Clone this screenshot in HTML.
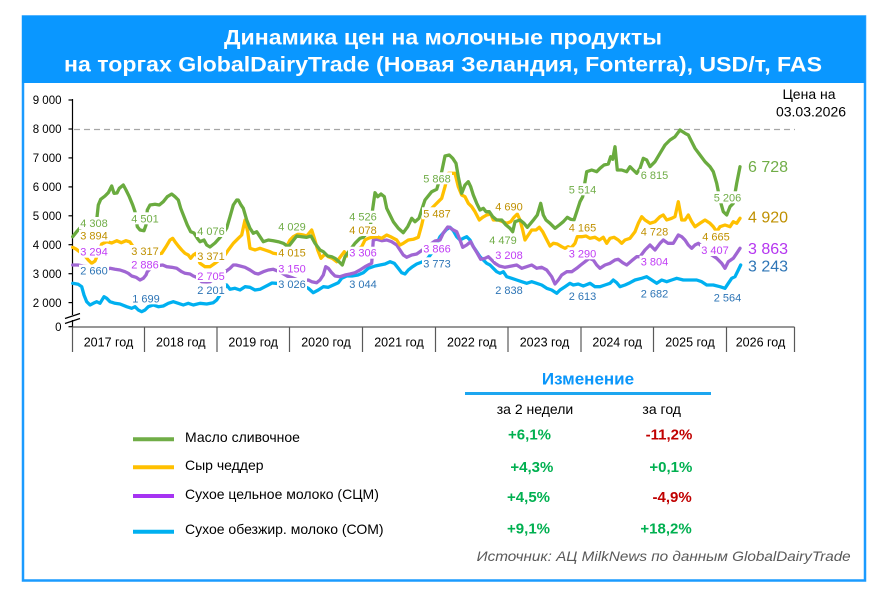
<!DOCTYPE html>
<html><head><meta charset="utf-8"><style>
html,body{margin:0;padding:0;background:#fff;}
svg{display:block;font-family:"Liberation Sans",Arial,sans-serif;}
.lbl{font-size:11px;text-anchor:middle;}
</style></head><body>
<svg width="873" height="589" viewBox="0 0 873 589" xmlns="http://www.w3.org/2000/svg">
<rect x="0" y="0" width="873" height="589" fill="#fff"/>
<!-- frame -->
<rect x="23" y="16.5" width="842" height="564" fill="#fff" stroke="#1a9bff" stroke-width="2.5"/>
<rect x="22" y="16" width="843" height="67" fill="#0a97ff"/>
<text x="443" y="44.5" fill="#fff" font-size="21.5" font-weight="bold" text-anchor="middle" textLength="438" lengthAdjust="spacingAndGlyphs">Динамика цен на молочные продукты</text>
<text x="443" y="71.5" fill="#fff" font-size="21.5" font-weight="bold" text-anchor="middle" textLength="758" lengthAdjust="spacingAndGlyphs">на торгах GlobalDairyTrade (Новая Зеландия, Fonterra), USD/т, FAS</text>

<!-- y axis -->
<g stroke="#000" stroke-width="1.2">
<line x1="72.5" y1="99" x2="72.5" y2="315"/>
<line x1="72.5" y1="320" x2="72.5" y2="327"/>
<line x1="68.5" y1="100" x2="72.5" y2="100"/>
<line x1="68.5" y1="129" x2="72.5" y2="129"/>
<line x1="68.5" y1="157.9" x2="72.5" y2="157.9"/>
<line x1="68.5" y1="186.9" x2="72.5" y2="186.9"/>
<line x1="68.5" y1="215.8" x2="72.5" y2="215.8"/>
<line x1="68.5" y1="244.7" x2="72.5" y2="244.7"/>
<line x1="68.5" y1="273.7" x2="72.5" y2="273.7"/>
<line x1="68.5" y1="302.6" x2="72.5" y2="302.6"/>
<line x1="68.5" y1="326.7" x2="72.5" y2="326.7"/>
<line x1="65" y1="318.5" x2="80" y2="313.5"/>
<line x1="65" y1="323.5" x2="80" y2="318.5"/>
</g>
<g font-size="11.5" fill="#000" text-anchor="end">
<text x="61.5" y="104">9 000</text>
<text x="61.5" y="133">8 000</text>
<text x="61.5" y="162">7 000</text>
<text x="61.5" y="191">6 000</text>
<text x="61.5" y="220">5 000</text>
<text x="61.5" y="249">4 000</text>
<text x="61.5" y="278">3 000</text>
<text x="61.5" y="307">2 000</text>
<text x="61.5" y="331">0</text>
</g>
<!-- 8000 dashed -->
<line x1="74" y1="129.5" x2="795" y2="129.5" stroke="#a6a6a6" stroke-width="1.2" stroke-dasharray="6,4"/>

<!-- x axis -->
<g stroke="#595959" stroke-width="1.2">
<line x1="72.5" y1="327" x2="794.5" y2="327"/>
<line x1="72.5" y1="327" x2="72.5" y2="352"/>
<line x1="144.5" y1="327" x2="144.5" y2="352"/>
<line x1="217" y1="327" x2="217" y2="352"/>
<line x1="289.5" y1="327" x2="289.5" y2="352"/>
<line x1="362.5" y1="327" x2="362.5" y2="352"/>
<line x1="435.5" y1="327" x2="435.5" y2="352"/>
<line x1="508" y1="327" x2="508" y2="352"/>
<line x1="581" y1="327" x2="581" y2="352"/>
<line x1="653.5" y1="327" x2="653.5" y2="352"/>
<line x1="726.5" y1="327" x2="726.5" y2="352"/>
<line x1="794.5" y1="327" x2="794.5" y2="352"/>
</g>
<g font-size="12.5" fill="#000" text-anchor="middle">
<text x="108.5" y="346.5">2017 год</text>
<text x="180.8" y="346.5">2018 год</text>
<text x="253.2" y="346.5">2019 год</text>
<text x="326" y="346.5">2020 год</text>
<text x="399" y="346.5">2021 год</text>
<text x="471.8" y="346.5">2022 год</text>
<text x="544.5" y="346.5">2023 год</text>
<text x="617.2" y="346.5">2024 год</text>
<text x="690" y="346.5">2025 год</text>
<text x="760.5" y="346.5">2026 год</text>
</g>

<text x="809" y="99" font-size="14" text-anchor="middle" fill="#000">Цена на</text>
<text x="811" y="116.7" font-size="14" text-anchor="middle" fill="#000">03.03.2026</text>

<!-- series -->
<g fill="none" stroke-width="3.3" stroke-linejoin="round" stroke-linecap="round">
<polyline stroke="#00b0f0" points="72.7,283.3 78.3,284.3 81.7,286.7 84,295 86.7,301.7 90,305 93.3,303.3 96.7,301.7 100,303.3 104,296.7 106.7,298.3 110,301.7 115,303.3 120,304 126.7,306.7 131.7,308.3 135,306.7 138.3,310 141.7,311.7 145,310 148.3,306.7 153.3,305 158.3,306.7 163.3,306 168.3,303.3 173.3,301.7 178.3,303.3 183.3,305 188.3,303.3 193.3,305 200,303.3 206.7,304 213.3,302.7 216.7,300 219.3,296 223,290 226.7,285 230,289.3 235,288.3 240,290 245,286.7 250,287.3 255,290 260,289.3 265,286.7 268.3,285 272,283 276,283.3 282,284 290,285 298,286 303.3,286 308.3,288.3 313.3,292.7 318.3,290 323.3,286.7 328.3,287.3 333.3,285 338.3,282.7 341.7,278.3 346.7,276 352,276 358,275 363.3,272.7 368.3,268.3 375,266 380,265 385,264 390,261.7 394.3,263.3 398.3,268.3 401.7,272.7 405,274 408.3,270 411.7,267.3 416.7,264 422,262 428,258 434,250 440,236.7 443.3,233 446.7,229.3 450,227.3 453.3,230.7 456.7,236.7 460,240 463.3,238.3 466.7,236.7 470,240 473.3,246.7 476.7,251.7 480,256.7 483.3,260 486.7,263.3 490,265 493.3,268.3 496.7,271.7 500,273.3 503.3,271.7 506.7,276.7 511.7,278.3 516.7,280 521.7,281.7 526.7,283.3 531.7,281.7 536.7,283.3 541.7,285 546.7,288.3 551.7,290 556.7,293.3 560,290 565,286.7 570,283.3 573.3,285 578.3,284 583.3,286 590,283.3 595,286.7 600,286.7 605,285 610,283.3 613.3,280 616.7,282.7 620,286.7 625,285 630,282.7 635,280 641.7,278.3 646.7,276.7 651.7,280 656.7,283.3 661.7,280 666.7,281.7 671.7,280 676.7,278.3 683.3,280 690,280 696.7,280 701.7,281.7 706.7,285 713.3,285 720,286.7 725,288.3 728.3,283.3 731.7,278.3 735,276.7 738.3,270 740.7,265"/>
<polyline stroke="#a066d3" points="72.7,265 78,265 83,266 90,267 96,268 101,269 106.7,269.3 110,268.3 115,269.3 120,270 125,271.7 128.3,273.3 131.7,276 136,277.3 140,280 143.3,278.3 146,275 147.3,271.7 152,267 157,265.7 162.7,265 166.7,266.7 171.7,267.3 176.7,268.3 181.7,271.7 185,273.3 190,274 193.3,276 196.7,277.3 201.7,281.7 206.7,282 210,281.7 215,278.3 220,275 225,272 230,268.3 233.3,265 236,265 240,266 245,267.3 250,270 255,273.3 258.3,274 263.3,271.7 268.3,270 273.3,269.3 280,272 287,276 293,278 298.3,280 303.3,280.7 308.3,280 311.7,281.7 316.7,282.7 320,280 323.3,275 325.7,266.7 328.3,268.3 331.7,272.7 335,276 340,276.7 345,275 350,274 355,272.7 360,270 365,266.7 368.3,265 371.7,263.3 373.3,240 376.7,239.3 381.7,240.7 386.7,240 391.7,241.7 396.7,245 400,250 403.3,255 406.7,257.3 411.7,255 416.7,254 421,251 428,246 435,241 440,240 443.3,233 447.7,227 449.3,227.3 453.3,230 456.7,231.7 460,240 462.7,247.3 466.7,245 470.7,241.7 473.3,246.7 477.3,253.3 480.7,259.3 485,258.3 488.3,256.7 491.7,260 495,263.3 499.3,266 505,267.3 511.7,266 516.7,265 521.7,268.3 526.7,266.7 531.7,265 536.7,268.3 541.7,267.3 546.7,270 551.7,276.7 555,284 558.3,280 561.7,275 566.7,271.7 571.7,271.7 576.7,268.3 580.7,265 585,261.7 589.3,258.3 593.3,260 596.7,265 600,268.3 605,265 610,263.3 615,260 618.3,259.3 622.7,262.7 626.7,265 631.7,260.7 636.7,256.7 640,256.7 645,250 650,245 655,250 660,243.3 663.3,240 668,243.3 673.3,243.3 678.3,235 681.7,236.7 685,240 688.3,245 691.7,248.3 695,245 698.3,243.3 705,249 711.7,255 716.7,258.3 721.7,263.3 725,268.3 728.3,261.7 733.3,258.3 736.7,253.3 740,248.3"/>
<polyline stroke="#ffc000" points="72.7,247.3 76,249 80,252 85,256 88.3,260 91.7,263.3 95,261 98.3,253.3 101.7,244 106.7,241.7 111.7,243 116.7,240.7 121.3,242.7 126,240.7 130,242 132.7,246 137,249 142,252 148,255 153.3,255 158,254 161.7,253.3 166,246.7 170,240 172.7,238.3 175,241.7 178.3,246 181.7,250 185,253.3 188.3,255 190.7,258.3 193.3,255 196,253.3 200,263.3 205,266.7 210,266.7 215,263.3 219.3,260 225,255 228.3,250 233.3,243.3 238.3,238.3 241.7,235 245,220 247.7,231.7 250,248.3 255,250 260,248.3 265,250 270,251.7 273.3,253.3 278,254 285,250 290,240 293.3,236.7 298.3,234 303.3,235 306.7,236 311.7,230 314.3,238.3 317.7,250 321,258.3 325,254 328.3,256.7 332.3,258.3 336.7,261.7 341,256 344.3,251.7 347,256 352,253 357,250 361.7,246.7 365,240 368.3,238.3 371.7,237.3 376.7,236.7 381.7,238.3 386.7,235 391.7,237.3 396.7,240 400,245 403.3,243.3 408.3,240 413.3,239.3 418.3,237.3 421.7,225 424,215 430,210 435,205 438.3,201.7 441.7,198.3 445,186.7 448.3,173.3 455,173.3 458.3,186.7 461.7,195 465,196.7 468.3,203.3 471.7,206.7 475,211.7 479.3,220 482.7,217.3 486.7,215 490.7,214 493.3,220 498.3,220 502.7,221.7 506.7,223.3 510.7,221.7 514,217.3 517.3,214 520,220 522.7,230 525,240 528.3,235 531.7,230 536,230 539.3,227.3 542.7,231.7 546,238.3 550,246 553.3,243.3 557.3,244 561.7,246.7 565,248.3 568,246.7 571,248 575,243.3 577.3,236.7 581.7,236.7 586,236 590,238.3 595,237.3 599.3,240 603.3,237.3 606.7,243.3 610,238.3 614,237.3 618.3,240 621.7,243.3 625,240 630,238.3 635,231.7 638.3,223.3 641.7,216.7 645,220 650,223.3 655,221.7 660,216.7 663.3,215 666.7,220 671.7,218.3 675,216.7 678.3,201.7 681.7,220 685,220 688.3,215 691.7,221.7 695,226.7 700,223.3 705,220 710,223.3 713.3,226.7 716.7,231.7 720,226.7 725,225 730,226.7 733.3,221.7 736.7,223.3 740,218.3"/>
<polyline stroke="#6aab3f" points="72.7,236.7 76.7,231.7 80,228 85,226 90,224 95,222 96.7,220 98.3,205 100.7,199.3 105,196 108.3,192.7 111.7,186 114,193.3 117,193 119.3,188.3 123.3,185 126,190 129.3,196.7 132.7,205 135,211.7 137.3,226.7 140,230 144,230.7 146,225 147.3,210 150,205 155,204.3 159.3,205 163.3,201.7 167.3,196.7 171.7,194 175,196.7 178.3,200 180.7,208.3 184,216.7 187.3,225 190.7,231.7 194,233 197.3,238.3 200,241.7 204,240 206.7,245 210,247 215,243 219.3,238.3 223.3,233.3 226.7,228 230,216.7 233.3,205 236.7,200 238.3,200 241,205 243.3,208.3 246.7,220 250,228.3 253.3,233.3 256.7,231.7 260,236.7 263.3,241.7 268.3,240 273.3,240.7 278.3,241.7 283.3,243.3 288.3,246.7 291,243.3 296.7,236 301.7,236.7 306.7,237.3 311,236 315,243.3 320,250 323.3,251.7 327.7,256 331.7,256.7 335,258.3 339,261.7 342.3,265 345,256.7 350,250 355,243.3 360,238.3 363.3,237.3 367,233 370,228.3 372.3,211.7 375,192.7 377.7,196.7 381,194 384.3,196.7 386.7,208.3 390,215 393.3,221.7 398.3,228.3 403.3,232.7 407.7,226.7 411.7,218.3 415,221.7 419,218.3 423.3,205 425,200 431.7,191.7 436.7,189.3 439,181.7 441.7,171.7 445,156 449.3,155 452.7,158.3 456,163.3 458.3,176.7 461.7,193.3 465,185 468.3,181.7 470.7,186.7 473.3,195 476.7,203.3 480,210 483.3,208.3 486,211.7 489.3,211.7 492.7,216.7 496.7,220 501.7,220 506,225 510,228.3 512.7,231.7 515,221.7 520,220 524,223.3 527.3,227.3 530.7,223.3 534,219.3 537.3,215 540.7,203.3 543.3,215 546,220 550,223.3 555,228.3 559.3,225 563.3,221.7 567.3,217.3 570.7,219.3 574,220 577.3,210 580,201.7 582.7,196.7 585,181.7 586.7,171.7 591.7,170 596.7,171.7 600,168.3 604,165 608.3,164 610.7,156.7 612.7,159.3 615,146.7 617.3,170 621.7,170 626.7,171.7 630,166.7 633.3,170 636.7,173.3 640,168.3 643.3,158.3 646.7,160 650,166.7 655,161.7 660,153.3 665,145 670,140 675,136.7 680,130 685,133.3 688.3,135 691.7,141.7 695,148.3 700,155 705,161.7 710,166.7 713.3,171.7 716.7,183.3 720,200 723.3,211.7 726.7,215 730,206.7 733.3,203.3 736.7,183.3 740,166.7"/>
</g>

<!-- data labels -->
<g class="lbl">
<g fill="#fff">
<rect x="79" y="217" width="30" height="12"/><rect x="130" y="212.3" width="30" height="12"/><rect x="196" y="225" width="30" height="12"/><rect x="277" y="220.7" width="30" height="12"/><rect x="348" y="210.7" width="30" height="12"/><rect x="422" y="172.3" width="30" height="12"/><rect x="488" y="234" width="30" height="12"/><rect x="567.5" y="183.3" width="30" height="12"/><rect x="639.5" y="169" width="30" height="12"/><rect x="712.5" y="191.3" width="30" height="12"/>
<rect x="79" y="229.5" width="30" height="12"/><rect x="130" y="245" width="30" height="12"/><rect x="196" y="250" width="30" height="12"/><rect x="277" y="246.7" width="30" height="12"/><rect x="348" y="224" width="30" height="12"/><rect x="422" y="207.3" width="30" height="12"/><rect x="494" y="200.7" width="30" height="12"/><rect x="567.5" y="221.3" width="30" height="12"/><rect x="639.5" y="225.7" width="30" height="12"/><rect x="701" y="230.7" width="30" height="12"/>
<rect x="79" y="245.7" width="30" height="12"/><rect x="130" y="258.3" width="30" height="12"/><rect x="196" y="270" width="30" height="12"/><rect x="277" y="262.3" width="30" height="12"/><rect x="348" y="246.7" width="30" height="12"/><rect x="422" y="242.3" width="30" height="12"/><rect x="494" y="249" width="30" height="12"/><rect x="567.5" y="247.3" width="30" height="12"/><rect x="639.5" y="255.7" width="30" height="12"/><rect x="700" y="244" width="30" height="12"/>
<rect x="79" y="264.7" width="30" height="12"/><rect x="131" y="292.3" width="30" height="12"/><rect x="196" y="284" width="30" height="12"/><rect x="277" y="278" width="30" height="12"/><rect x="348" y="278" width="30" height="12"/><rect x="422" y="257.3" width="30" height="12"/><rect x="494" y="284" width="30" height="12"/><rect x="567.5" y="290" width="30" height="12"/><rect x="639.5" y="287.3" width="30" height="12"/><rect x="712.5" y="291.3" width="30" height="12"/>
</g>
<g fill="#70ad47">
<text x="94" y="227">4 308</text><text x="145" y="222.3">4 501</text><text x="211" y="235">4 076</text><text x="292" y="230.7">4 029</text><text x="363" y="220.7">4 526</text><text x="437" y="182.3">5 868</text><text x="503" y="244">4 479</text><text x="582.5" y="193.3">5 514</text><text x="654.5" y="179">6 815</text><text x="727.5" y="201.3">5 206</text>
</g>
<g fill="#bf9000">
<text x="94" y="239.5">3 894</text><text x="145" y="255">3 317</text><text x="211" y="260">3 371</text><text x="292" y="256.7">4 015</text><text x="363" y="234">4 078</text><text x="437" y="217.3">5 487</text><text x="509" y="210.7">4 690</text><text x="582.5" y="231.3">4 165</text><text x="654.5" y="235.7">4 728</text><text x="716" y="240.7">4 665</text>
</g>
<g fill="#c03cf5">
<text x="94" y="255.7">3 294</text><text x="145" y="268.3">2 886</text><text x="211" y="280">2 705</text><text x="292" y="272.3">3 150</text><text x="363" y="256.7">3 306</text><text x="437" y="252.3">3 866</text><text x="509" y="259">3 208</text><text x="582.5" y="257.3">3 290</text><text x="654.5" y="265.7">3 804</text><text x="715" y="254">3 407</text>
</g>
<g fill="#2e75b6">
<text x="94" y="274.7">2 660</text><text x="146" y="302.3">1 699</text><text x="211" y="294">2 201</text><text x="292" y="288">3 026</text><text x="363" y="288">3 044</text><text x="437" y="267.3">3 773</text><text x="509" y="294">2 838</text><text x="582.5" y="300">2 613</text><text x="654.5" y="297.3">2 682</text><text x="727.5" y="301.3">2 564</text>
</g>
</g>

<!-- end values -->
<g font-size="16">
<text x="748" y="171.8" fill="#70ad47">6 728</text>
<text x="748" y="222.5" fill="#bf9000">4 920</text>
<text x="748" y="254" fill="#b535f0">3 863</text>
<text x="748" y="271.5" fill="#2e75b6">3 243</text>
</g>

<!-- legend -->
<g stroke-width="4">
<line x1="133" y1="439.3" x2="174" y2="439.3" stroke="#70ad47"/>
<line x1="133" y1="467.3" x2="174" y2="467.3" stroke="#ffc000"/>
<line x1="133" y1="496" x2="174" y2="496" stroke="#a633f2"/>
<line x1="133" y1="531.7" x2="174" y2="531.7" stroke="#00b0f0"/>
</g>
<g font-size="14" fill="#000">
<text x="185" y="442">Масло сливочное</text>
<text x="185" y="470">Сыр чеддер</text>
<text x="185" y="499">Сухое цельное молоко (СЦМ)</text>
<text x="185" y="534">Сухое обезжир. молоко (СОМ)</text>
</g>

<!-- change table -->
<text x="588" y="384.3" font-size="17" font-weight="bold" fill="#0a96fa" text-anchor="middle">Изменение</text>
<rect x="465" y="392" width="246" height="3" fill="#1ca6f0"/>
<g font-size="14" fill="#000" text-anchor="middle">
<text x="535" y="414">за 2 недели</text>
<text x="661.7" y="414">за год</text>
</g>
<g font-size="15" font-weight="bold" text-anchor="end">
<text x="551" y="439.5" fill="#00b050">+6,1%</text>
<text x="692.3" y="439.5" fill="#c00000">-11,2%</text>
<text x="553.3" y="472" fill="#00b050">+4,3%</text>
<text x="692.3" y="472" fill="#00b050">+0,1%</text>
<text x="550" y="502" fill="#00b050">+4,5%</text>
<text x="691.7" y="502" fill="#c00000">-4,9%</text>
<text x="550" y="533.3" fill="#00b050">+9,1%</text>
<text x="691.7" y="533.3" fill="#00b050">+18,2%</text>
</g>
<text x="476.7" y="561" font-size="14" font-style="italic" fill="#595959" textLength="374" lengthAdjust="spacingAndGlyphs">Источник: АЦ MilkNews по данным GlobalDairyTrade</text>
</svg>
</body></html>
